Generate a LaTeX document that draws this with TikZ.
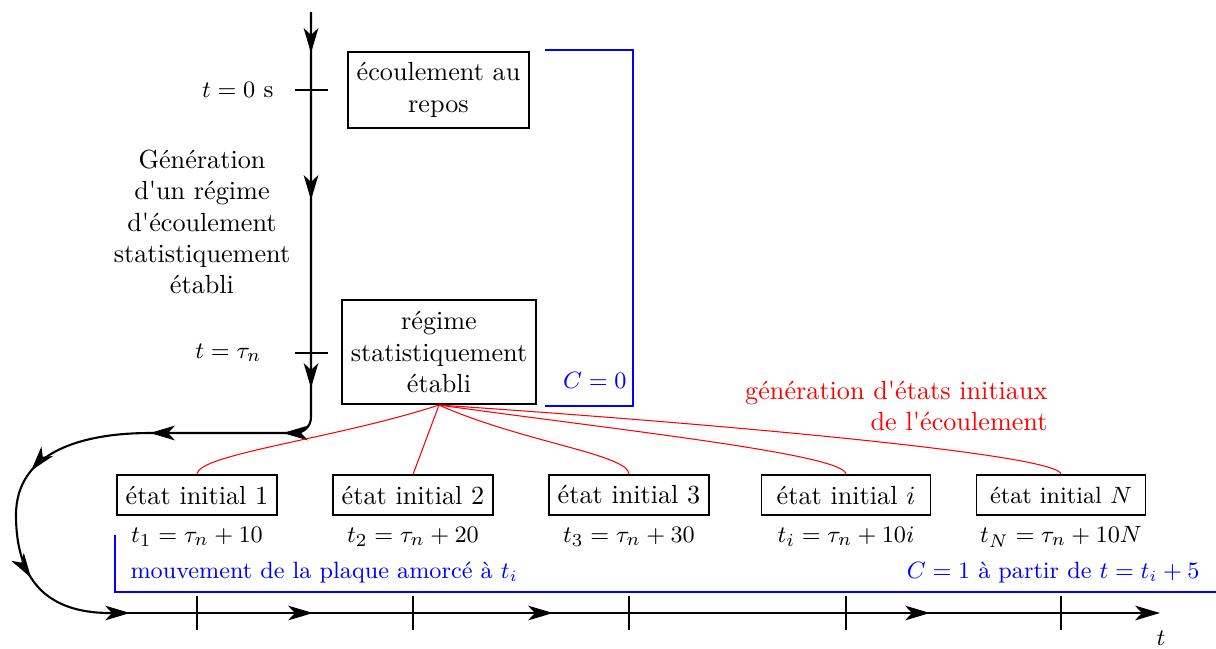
\documentclass[tikz,border=0pt]{standalone}
\usepackage{fontspec}
\setmainfont{Latin Modern Roman}[Ligatures=TeXOff]
\usetikzlibrary{arrows.meta,decorations.markings}
\begin{document}
\begin{tikzpicture}[x=0.3817pt,y=-0.3817pt,
  tip/.style={-{Stealth[length=9.5pt,width=5.6pt,inset=2.6pt]},line width=0.8pt},
  midtip/.style={postaction={decorate},decoration={markings,
      mark=at position #1 with {\arrow{Stealth[length=9.5pt,width=5.6pt,inset=2.6pt]}}}},
  mainline/.style={line width=0.8pt},
  tickmark/.style={line width=0.6pt},
  bigbox/.style={draw,line width=0.8pt,align=center,inner sep=3.33pt},
  statebox/.style={draw,line width=0.5pt,minimum height=15.3pt,inner sep=3.33pt},
  bluefr/.style={blue,line width=0.6pt},
  redln/.style={red,line width=0.4pt},
  lbl/.style={inner sep=0pt},
  mlbl/.style={inner sep=0pt,font=\fontsize{9.3pt}{11pt}\selectfont},
  bluetxt/.style={inner sep=0pt,blue,font=\small},
]
\useasboundingbox (0,0) rectangle (1216,648);

% boxes
\node[bigbox,minimum height=29pt] (repos) at (438.5,90) {écoulement au\\repos};
\node[bigbox,minimum height=39.7pt] (reg) at (439,352) {régime\\statistiquement\\établi};

\node[statebox] (s1) at (197,495) {état initial 1};
\node[statebox] (s2) at (413,495) {état initial 2};
\node[statebox] (s3) at (629,495) {état initial 3};
\node[statebox,minimum width=64.5pt] (si) at (846,495) {état initial $i$};
\node[statebox,minimum width=64.5pt,font=\small] (sN) at (1061,495) {état initial $N$};

% labels under boxes
\node[mlbl] (l1) at (197,537) {$t_1=\tau_n+10$};
\node[mlbl] (l2) at (413,537) {$t_2=\tau_n+20$};
\node[mlbl] (l3) at (629,537) {$t_3=\tau_n+30$};
\node[mlbl] (li) at (846,537) {$t_i=\tau_n+10i$};
\node[mlbl] (lN) at (1061,537) {$t_N=\tau_n+10N$};

% left labels
\node[mlbl,anchor=east] (t0lab) at (274,90) {$t=0$ s};
\node[mlbl,anchor=east] (tnlab) at (262,353) {$t=\tau_n$};
\node[lbl,align=center] (gen) at (202,222) {Génération\\d'un régime\\d'écoulement\\statistiquement\\établi};

% red label
\node[lbl,red,align=right,anchor=east] (redlab) at (1048,406) {génération d'états initiaux\\de l'écoulement};

% blue labels
\node[bluetxt,anchor=east] (c0) at (627,380) {$C=0$};
\node[bluetxt,anchor=west] (mv) at (130,573) {mouvement de la plaque amorcé à $t_i$};
\node[bluetxt,anchor=east] (c1) at (1200,573) {$C=1$ à partir de $t=t_i+5$};
\node[mlbl] (tax) at (1161,638) {$t$};

% blue frames
\draw[bluefr] (545,50) -- (633,50) -- (633,406) -- (545,406);
\draw[bluefr] (115,535) -- (115,592) -- (1216,592);

% main time line
\coordinate (top) at (311,12);
\coordinate (corner) at (311,433);
\coordinate (hl) at (150,433);
\coordinate (lm) at (16,515);
\coordinate (bs) at (110,613);
\coordinate (be) at (1160,613);
\draw[mainline,rounded corners=6pt] (top) -- (corner) -- (hl);
\draw[mainline,midtip=49pt] (hl) .. controls (86,433) and (16,450) .. (lm);
\draw[mainline,midtip=25pt] (lm) .. controls (16,578) and (45,613) .. (bs);
\draw[tip] (bs) -- (be);

% arrowheads along the straight parts
\foreach \y in {53,200,388} \draw[tip] (311,\y-6) -- (311,\y);
\draw[tip] (290,433) -- (283,433);
\draw[tip] (157,433) -- (150,433);
\foreach \x in {130,313,553,930} \draw[tip] (\x-6,613) -- (\x,613);

% ticks
\draw[tickmark] (295,90) -- (328,90);
\draw[tickmark] (295,353) -- (328,353);
\foreach \x in {197,413,629,846,1061} \draw[tickmark] (\x,596) -- (\x,630);

% red links
\draw[redln] (reg.south) .. controls +(-105,34) and +(0,-20) .. (s1.north);
\draw[redln] (reg.south) -- (s2.north);
\draw[redln] (reg.south) .. controls +(83,37) and +(0,-20) .. (s3.north);
\draw[redln] (reg.south) .. controls +(180,25) and +(0,-20) .. (si.north);
\draw[redln] (reg.south) .. controls +(270,18) and +(0,-20) .. (sN.north);
\end{tikzpicture}
\end{document}
